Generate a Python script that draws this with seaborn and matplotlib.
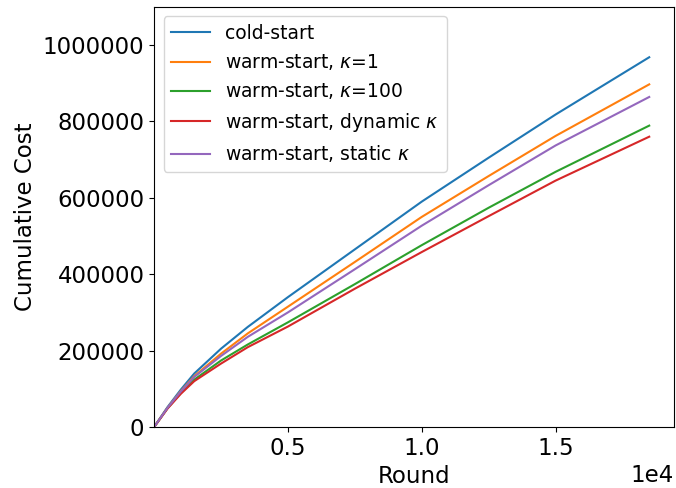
import numpy as np
import pandas as pd
import matplotlib
matplotlib.use("Agg")
import matplotlib.pyplot as plt
import seaborn as sns

# values
rounds = [1, 500, 1000, 1500, 2500, 3500, 5000, 7500, 10000, 12500, 15000, 18500]
cold_start = [0, 52000, 98000, 140000, 205000, 262000, 340000, 465000, 590000, 705000, 818000, 968000]
warm_k1 = [0, 50000, 94000, 133000, 192000, 245000, 315000, 432000, 550000, 657000, 762000, 897000]
warm_k100 = [0, 49000, 89000, 124000, 174000, 216000, 274000, 374000, 476000, 574000, 668000, 789000]
warm_dynamic = [0, 48000, 87000, 120000, 166000, 209000, 263000, 362000, 458000, 552000, 645000, 760000]
warm_static = [0, 50000, 93000, 131000, 186000, 236000, 300000, 413000, 527000, 633000, 737000, 864000]

labels = ["cold-start", r"warm-start, $\kappa$=1", r"warm-start, $\kappa$=100",
          r"warm-start, dynamic $\kappa$", r"warm-start, static $\kappa$"]
series = [cold_start, warm_k1, warm_k100, warm_dynamic, warm_static]

rows = []
for lab, vals in zip(labels, series):
    for r, v in zip(rounds, vals):
        rows.append({"Round": r, "Cost": v, "Method": lab})
df = pd.DataFrame(rows)

fig, ax = plt.subplots(figsize=(6.76, 4.88), dpi=100)
fig.subplots_adjust(left=0.228, right=0.997, bottom=0.125, top=0.986)

sns.lineplot(data=df, x="Round", y="Cost", hue="Method", hue_order=labels,
             palette=sns.color_palette("tab10", 5), linewidth=1.5, ax=ax)

ax.set_xlim(1, 19425)
ax.set_ylim(0, 1100000)
ax.set_xticks([5000, 10000, 15000])
ax.set_yticks([0, 200000, 400000, 600000, 800000, 1000000])
ax.ticklabel_format(axis="x", style="sci", scilimits=(0, 0))
ax.ticklabel_format(axis="y", style="plain")
ax.tick_params(labelsize=16.5)
ax.xaxis.get_offset_text().set_fontsize(16.5)
ax.set_xlabel("Round", fontsize=16.5)
ax.set_ylabel("Cumulative Cost", fontsize=16.5)

ax.legend(loc="upper left", fontsize=13.5, title=None, handlelength=2.1)

fig.savefig("out.png", dpi=100)
